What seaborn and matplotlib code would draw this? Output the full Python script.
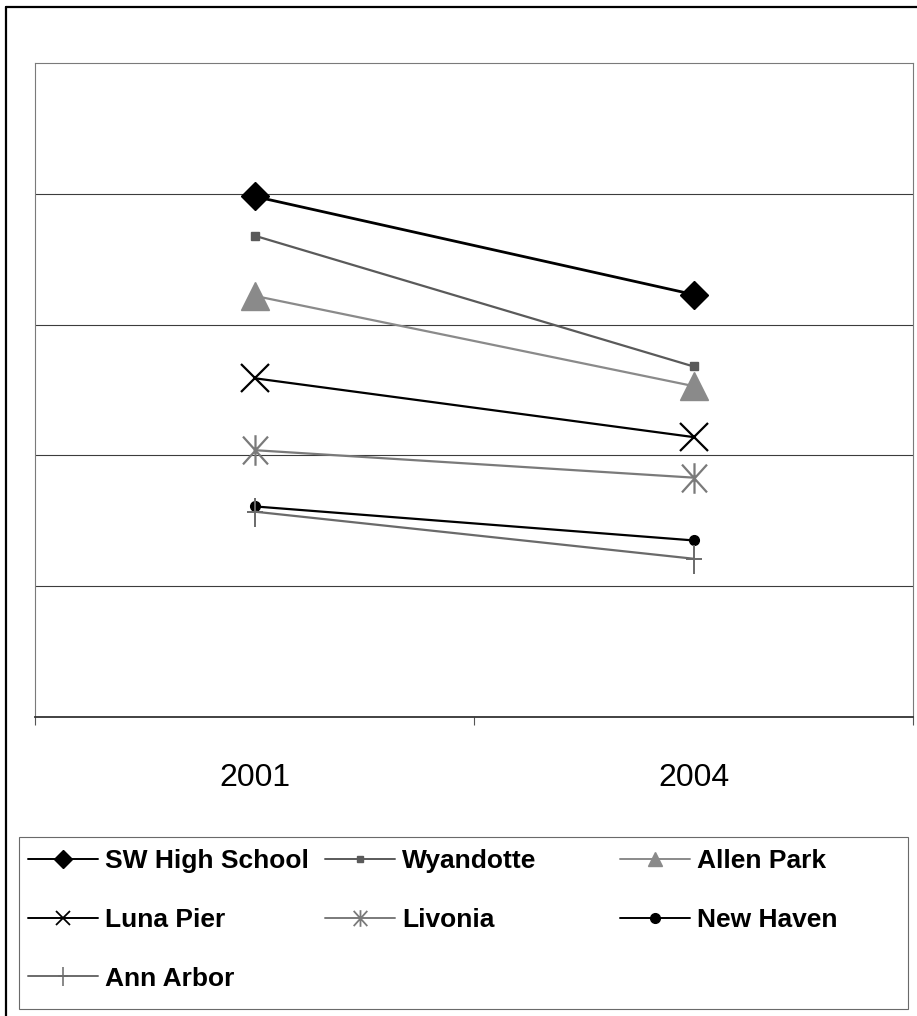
import matplotlib
matplotlib.use("Agg")
import matplotlib.pyplot as plt
from matplotlib.lines import Line2D
from matplotlib.patches import Rectangle
from matplotlib.path import Path
import seaborn as sns
import pandas as pd

# ---- data -------------------------------------------------------------
years = ["2001", "2004"]
sw_high_school = [39.8, 32.3]
wyandotte = [36.8, 26.8]
allen_park = [32.2, 25.3]
luna_pier = [25.9, 21.4]
livonia = [20.4, 18.3]
new_haven = [16.1, 13.5]
ann_arbor = [15.7, 12.1]
series_names = ["SW High School", "Wyandotte", "Allen Park", "Luna Pier",
                "Livonia", "New Haven", "Ann Arbor"]
series_values = [sw_high_school, wyandotte, allen_park, luna_pier,
                 livonia, new_haven, ann_arbor]

# ---- custom marker shapes ------------------------------------------------
star_path = Path(
    [(-0.45, -0.5), (0.45, 0.5), (-0.45, 0.5), (0.45, -0.5), (0, -0.55), (0, 0.55)],
    [Path.MOVETO, Path.LINETO, Path.MOVETO, Path.LINETO, Path.MOVETO, Path.LINETO],
)
plus_path = Path(
    [(-0.3, 0), (0.3, 0), (0, -0.55), (0, 0.5)],
    [Path.MOVETO, Path.LINETO, Path.MOVETO, Path.LINETO],
)

styles = {
    "SW High School": dict(color="black", lw=2.0, marker="D", ms=14, mfc="black", mec="black", mew=1),
    "Wyandotte": dict(color="#5a5a5a", lw=1.6, marker="s", ms=6, mfc="#5a5a5a", mec="#5a5a5a", mew=1),
    "Allen Park": dict(color="#8a8a8a", lw=1.6, marker="^", ms=20, mfc="#8a8a8a", mec="#8a8a8a", mew=1),
    "Luna Pier": dict(color="black", lw=1.6, marker="x", ms=20, mfc="black", mec="black", mew=1.6),
    "Livonia": dict(color="#7a7a7a", lw=1.6, marker=star_path, ms=22, mfc="none", mec="#7a7a7a", mew=1.6),
    "New Haven": dict(color="black", lw=1.6, marker="o", ms=7, mfc="black", mec="black", mew=1),
    "Ann Arbor": dict(color="#6a6a6a", lw=1.6, marker=plus_path, ms=22, mfc="none", mec="#6a6a6a", mew=1.4),
}
legend_sizes = {"SW High School": 9, "Wyandotte": 5, "Allen Park": 10, "Luna Pier": 10,
                "Livonia": 12, "New Haven": 7, "Ann Arbor": 14}

sns.set_theme(style="white")
plt.rcParams["font.family"] = ["Liberation Sans", "DejaVu Sans"]

W, H = 917, 1016
fig = plt.figure(figsize=(W / 100, H / 100), dpi=100)
fig.patch.set_facecolor("white")

ax = fig.add_axes([35 / W, 1 - 717 / H, (913 - 35) / W, (717 - 63) / H])
ax.set_facecolor("white")

df = pd.DataFrame({
    "year": years * len(series_names),
    "value": [v for vals in series_values for v in vals],
    "school": [n for n in series_names for _ in years],
})

for name in series_names:
    st = styles[name]
    sub = df[df["school"] == name]
    sns.lineplot(data=sub, x="year", y="value", ax=ax, color=st["color"], linewidth=st["lw"],
                 marker=st["marker"], markersize=st["ms"], markerfacecolor=st["mfc"],
                 markeredgecolor=st["mec"], markeredgewidth=st["mew"], legend=False, zorder=3)

ax.set_xlim(-0.5, 1.5)
ax.set_ylim(0, 50)
ax.set_yticks([10, 20, 30, 40])
ax.set_yticklabels([])
ax.yaxis.grid(True, color="#3c3c3c", linewidth=0.8)
ax.xaxis.grid(False)
ax.set_xlabel("")
ax.set_ylabel("")
ax.set_xticks([0, 1])
ax.set_xticklabels(years)
ax.set_xticks([-0.5, 0.5, 1.5], minor=True)
ax.tick_params(axis="x", which="major", length=0, pad=33, labelsize=23, colors="black")
ax.tick_params(axis="x", which="minor", length=6, width=0.8, color="#555555", bottom=True)
ax.tick_params(axis="y", length=0)
for side in ["top", "left", "right"]:
    ax.spines[side].set_color("#7a7a7a")
    ax.spines[side].set_linewidth(0.8)
ax.spines["bottom"].set_color("#333333")
ax.spines["bottom"].set_linewidth(1.3)

# ---- legend: three columns laid out row by row -------------------------
def handle_for(name):
    st = styles[name]
    return Line2D([], [], color=st["color"], lw=1.4, marker=st["marker"], ms=legend_sizes[name],
                  mfc=st["mfc"], mec=st["mec"], mew=max(1.0, st["mew"] * 0.8))

columns = [
    (28, ["SW High School", "Luna Pier", "Ann Arbor"]),
    (325, ["Wyandotte", "Livonia"]),
    (620, ["Allen Park", "New Haven"]),
]
fs = 19
for x0, names in columns:
    leg = fig.legend([handle_for(n) for n in names], names, loc="upper left",
                     bbox_to_anchor=(x0 / W, 1 - 849 / H), bbox_transform=fig.transFigure,
                     frameon=False, borderpad=0, borderaxespad=0, handlelength=2.65,
                     handletextpad=0.27, labelspacing=1.32,
                     prop=dict(family="Liberation Sans", weight="bold", size=fs))
    for t in leg.get_texts():
        t.set_color("black")

fig.add_artist(Rectangle((19 / W, 1 - 1009 / H), (908 - 19) / W, (1009 - 837) / H,
                         transform=fig.transFigure, fill=False, edgecolor="#6a6a6a", linewidth=0.8))

# outer chart border
fig.add_artist(Line2D([6 / W, 6 / W], [0, 1 - 7 / H], transform=fig.transFigure,
                      color="black", linewidth=1.6))
fig.add_artist(Line2D([6 / W, 1], [1 - 7 / H, 1 - 7 / H], transform=fig.transFigure,
                      color="black", linewidth=1.6))

fig.savefig("out.png", dpi=100, facecolor="white")
